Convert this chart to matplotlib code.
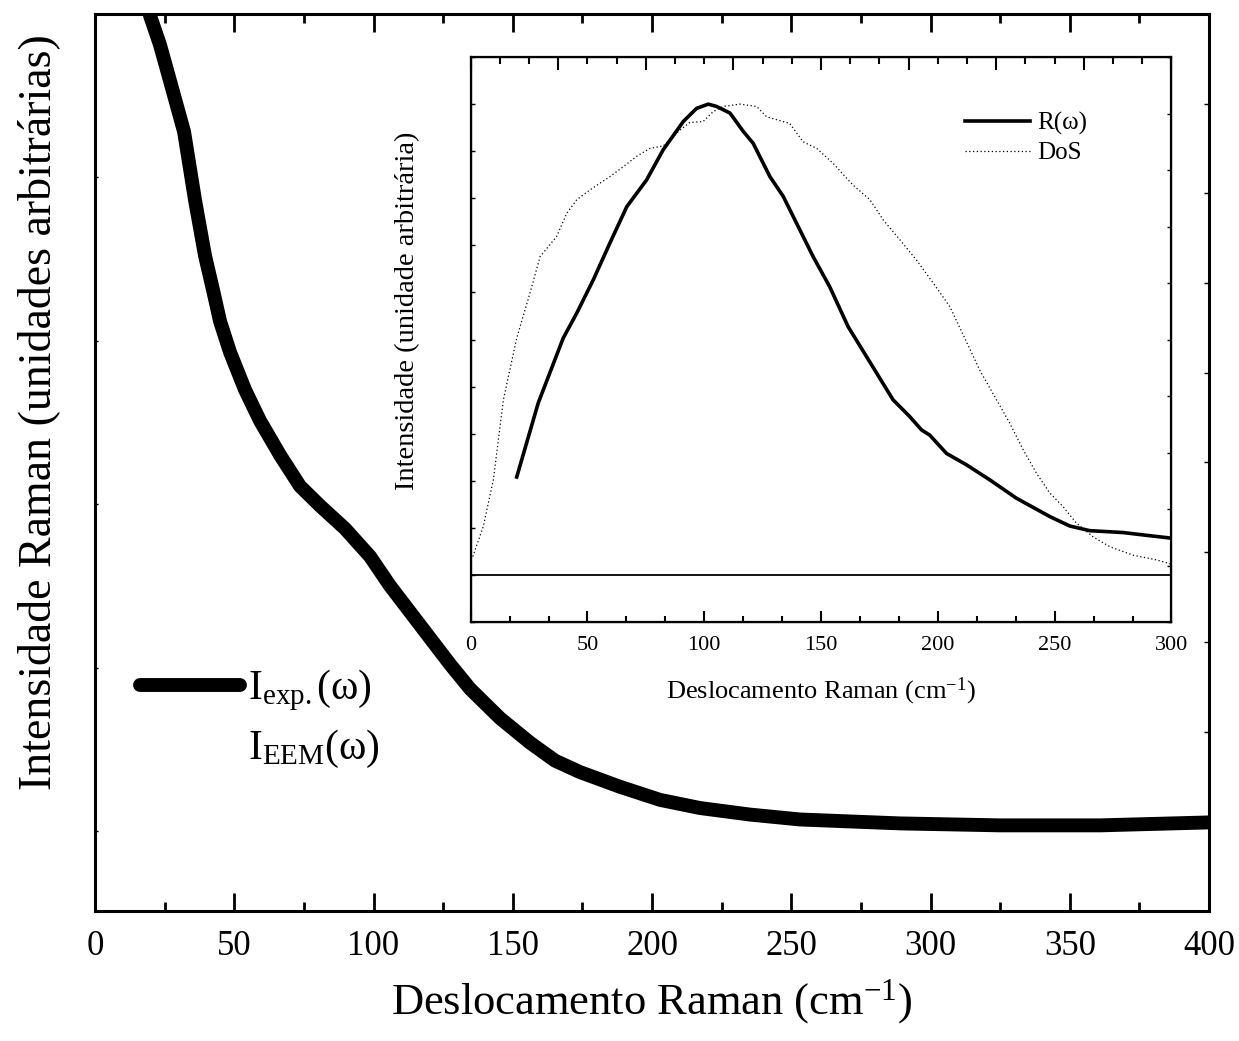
import matplotlib
matplotlib.use('Agg')
import matplotlib.pyplot as plt
from matplotlib.lines import Line2D
from matplotlib.ticker import MultipleLocator

plt.rcParams['font.family'] = ['Liberation Serif', 'DejaVu Serif']
plt.rcParams['mathtext.fontset'] = 'custom'
plt.rcParams['mathtext.rm'] = 'Liberation Serif'
plt.rcParams['mathtext.it'] = 'Liberation Serif:italic'

# main curve, I_exp(w), arbitrary units
main_x = [17, 19.75, 23.34, 26.93, 31.96, 35.91, 39.50, 42.37, 44.88, 48.47, 53.86,
          59.25, 66.43, 73.61, 80.79, 89.77, 98.74, 105.92, 113.11, 120.29, 127.47,
          134.65, 145.42, 156.19, 165.17, 174.15, 188.51, 202.87, 217.24, 235.19,
          253.14, 289.05, 324.96, 360.86, 400]
main_y = [5.20, 4.99, 4.81, 4.59, 4.28, 3.86, 3.52, 3.31, 3.12, 2.93, 2.70,
          2.51, 2.30, 2.11, 1.99, 1.85, 1.68, 1.50, 1.34, 1.18, 1.02,
          0.87, 0.69, 0.54, 0.43, 0.36, 0.27, 0.19, 0.14, 0.10,
          0.07, 0.046, 0.034, 0.034, 0.052]

# inset: R(w)
r_x = [19.7, 28.9, 39.6, 45.4, 52.5, 59.6, 66.8, 75.3, 82.4, 91.0, 96.7, 101.7, 105.3,
       111.0, 116.7, 120.9, 128.1, 133.8, 140.9, 146.6, 153.7, 161.6, 170.9, 180.8,
       188.0, 193.0, 196.5, 203.7, 212.2, 222.2, 233.6, 247.9, 256.4, 265.0, 279.3,
       287.8, 300]
r_y = [2.08, 3.65, 5.03, 5.56, 6.27, 7.05, 7.82, 8.39, 9.03, 9.63, 9.91, 10.0, 9.95,
       9.81, 9.42, 9.17, 8.46, 8.04, 7.33, 6.76, 6.12, 5.27, 4.52, 3.72,
       3.36, 3.08, 2.97, 2.58, 2.34, 2.02, 1.63, 1.24, 1.04, 0.94, 0.90,
       0.85, 0.78]

# inset: DoS
dos_x = [0.9, 5.4, 9.7, 14.0, 19.7, 25.4, 29.7, 36.8, 41.1, 45.4, 51.1, 59.6, 65.3,
         71.0, 76.7, 82.4, 89.6, 93.8, 99.5, 103.8, 108.1, 115.2, 122.4, 126.7,
         136.6, 142.3, 148.1, 155.2, 161.6, 163.7, 170.9, 176.6, 183.7, 190.8,
         198.0, 205.1, 211.5, 217.9, 225.1, 230.8, 236.5, 242.2, 247.9, 253.6,
         259.3, 266.4, 273.6, 283.5, 293.5, 300]
dos_y = [0.39, 1.03, 2.02, 3.72, 5.03, 5.99, 6.76, 7.19, 7.68, 7.97, 8.18, 8.46, 8.67,
         8.89, 9.06, 9.11, 9.45, 9.61, 9.63, 9.84, 9.95, 10.0, 9.95, 9.73,
         9.59, 9.20, 9.06, 8.74, 8.39, 8.28, 7.97, 7.54, 7.12, 6.69,
         6.20, 5.70, 5.03, 4.35, 3.72, 3.22, 2.66, 2.16, 1.74, 1.45,
         1.10, 0.81, 0.60, 0.42, 0.32, 0.23]

fig = plt.figure(figsize=(12.39, 10.41), dpi=100)

# main plot
ax = fig.add_axes([0.0767, 0.1249, 0.8991, 0.8617])
ax.plot(main_x, main_y, color='k', lw=10, solid_capstyle='round',
        solid_joinstyle='round')
ax.set_xlim(0, 400)
ax.set_ylim(-0.49, 5.0)
ax.xaxis.set_major_locator(MultipleLocator(50))
ax.xaxis.set_minor_locator(MultipleLocator(25))
ax.yaxis.set_major_locator(MultipleLocator(1))
ax.tick_params(axis='x', which='major', direction='in', length=13, width=2,
               top=True, labelsize=25, pad=14)
ax.tick_params(axis='x', which='minor', direction='in', length=6.5, width=2, top=True)
ax.tick_params(axis='y', which='major', direction='in', length=2, width=1,
               labelleft=False)
for s in ax.spines.values():
    s.set_linewidth(2.2)
ax.set_xlabel('Deslocamento Raman (cm$^{\\mathrm{-1}}$)', fontsize=32)
ax.xaxis.set_label_coords(0.5, -0.074)
ax.set_ylabel('Intensidade Raman (unidades arbitrárias)', fontsize=33)
ax.yaxis.set_label_coords(-0.031, 0.556)

leg = ax.legend([Line2D([], [], color='k', lw=10, solid_capstyle='round'),
                 Line2D([], [], color='none')],
                ['I$_{\\mathrm{exp.}}$(ω)', 'I$_{\\mathrm{EEM}}$(ω)'],
                loc='upper left', bbox_to_anchor=(0.040, 0.271), frameon=False,
                fontsize=30, handlelength=2.4, handletextpad=0.2,
                labelspacing=0.35, borderpad=0, borderaxespad=0)

axr = ax.twinx()
axr.set_ylim(0, 10)
axr.yaxis.set_major_locator(MultipleLocator(1))
axr.tick_params(axis='y', direction='in', length=3.5, width=1, labelright=False)

# inset
ins = fig.add_axes([0.3799, 0.4025, 0.5656, 0.5427])
ins.set_facecolor('white')
ins.axhline(0, color='k', lw=1.3)
ins.plot(dos_x, dos_y, color='k', lw=0.9, ls=(0, (1, 2)), label='DoS')
ins.plot(r_x, r_y, color='k', lw=2.6, label='R(ω)', solid_joinstyle='round')
ins.set_xlim(0, 300)
ins.set_ylim(-1, 11)
ins.xaxis.set_major_locator(MultipleLocator(50))
ins.xaxis.set_minor_locator(MultipleLocator(50 / 3))
ins.yaxis.set_major_locator(MultipleLocator(1))
ins.tick_params(axis='x', which='major', direction='in', length=8, width=1.5,
                labelsize=16, pad=10)
ins.tick_params(axis='x', which='minor', direction='in', length=4.5, width=1.5)
ins.tick_params(axis='y', direction='in', length=3, width=1, labelleft=False)
for s in ins.spines.values():
    s.set_linewidth(1.6)
ins.set_xlabel('Deslocamento Raman (cm$^{\\mathrm{-1}}$)', fontsize=19)
ins.xaxis.set_label_coords(0.5, -0.095)
ins.set_ylabel('Intensidade (unidade arbitrária)', fontsize=20.5)
ins.yaxis.set_label_coords(-0.072, 0.55)

h, l = ins.get_legend_handles_labels()
ins.legend(h[::-1], l[::-1], loc='upper left', bbox_to_anchor=(0.705, 0.903),
           frameon=False, fontsize=18, handlelength=2.6, handletextpad=0.3,
           labelspacing=0.28, borderpad=0, borderaxespad=0)

ins_top = ins.twiny()
ins_top.set_xlim(0, 300)
ins_top.xaxis.set_major_locator(MultipleLocator(37.5))
ins_top.xaxis.set_minor_locator(MultipleLocator(12.5))
ins_top.tick_params(axis='x', which='major', direction='in', length=9, width=1.5,
                    labeltop=False)
ins_top.tick_params(axis='x', which='minor', direction='in', length=5, width=1.5)

ins_r = ins.twinx()
ins_r.set_ylim(0, 10)
ins_r.yaxis.set_major_locator(MultipleLocator(1))
ins_r.tick_params(axis='y', direction='in', length=3, width=1, labelright=False)

fig.savefig('out.png', dpi=100)
